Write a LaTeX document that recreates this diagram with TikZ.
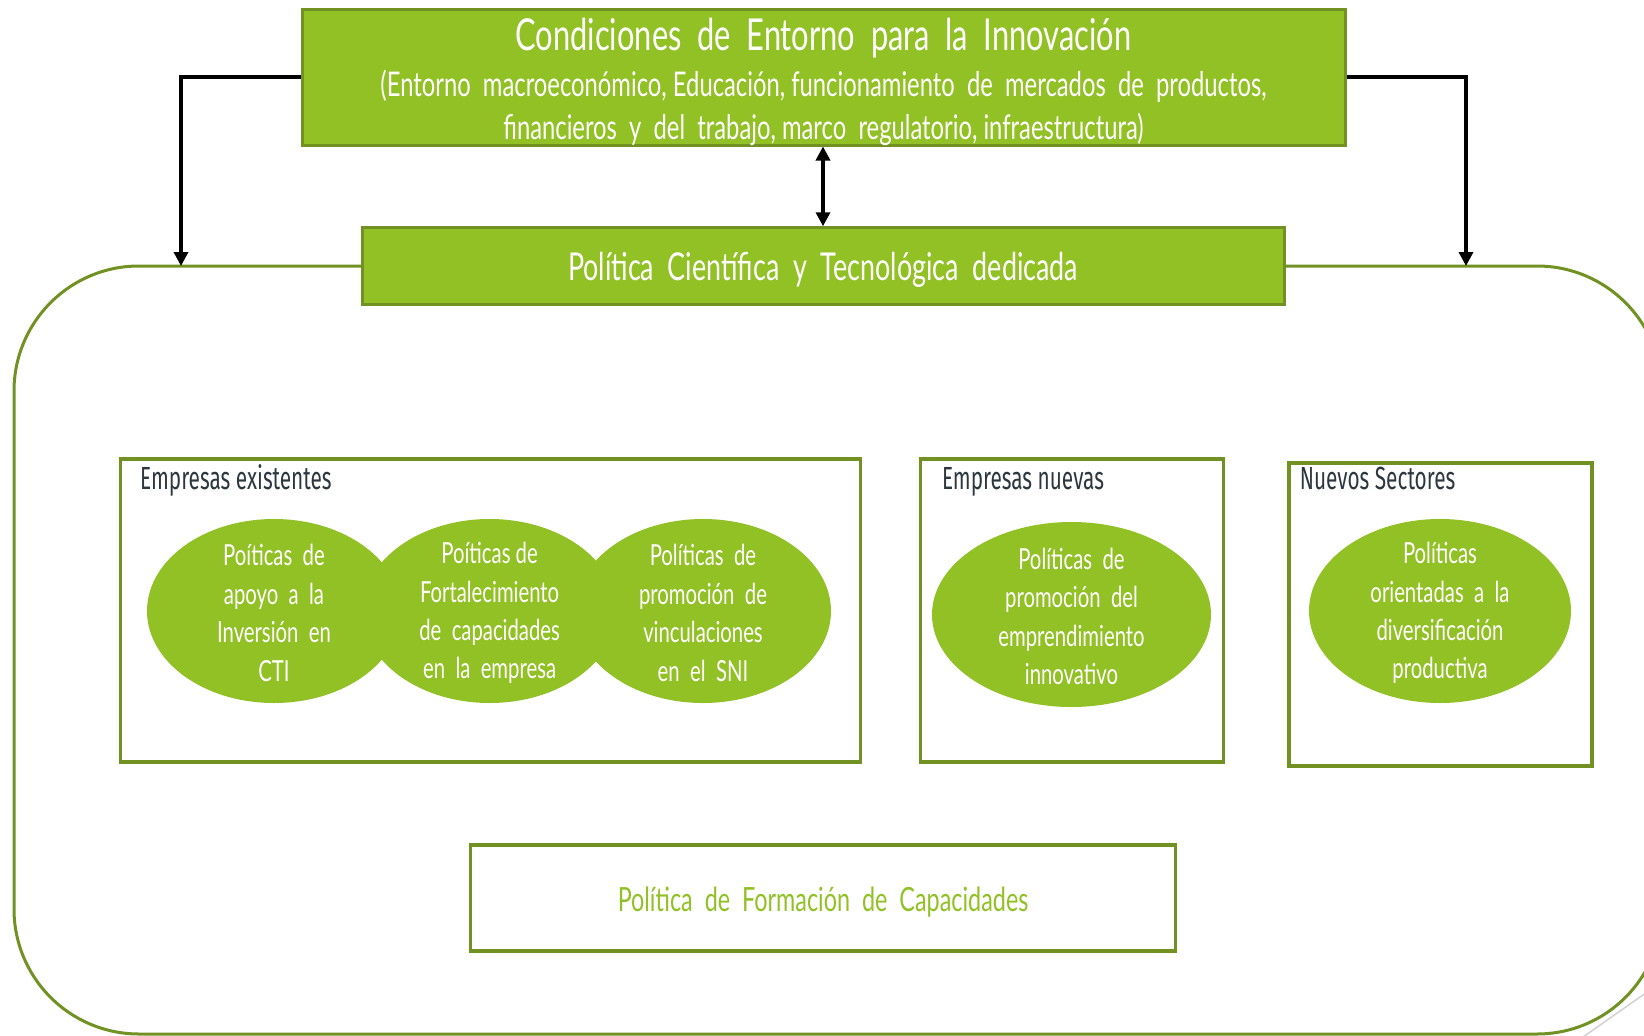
\documentclass[tikz,border=0pt]{standalone}
\usepackage{fontspec}
\setmainfont[FakeStretch=0.7]{Lato}
\newfontfamily\lblfont[FakeStretch=0.65]{Fira Sans}
\usetikzlibrary{shapes.geometric,arrows.meta}
\definecolor{gfill}{RGB}{146,193,38}
\definecolor{gline}{RGB}{113,146,35}
\definecolor{lblc}{RGB}{45,55,62}
\begin{document}
\begin{tikzpicture}[x=1pt,y=-1pt,
  greenbox/.style={draw=gline,fill=gfill,line width=3pt,inner sep=0pt},
  ibox/.style={draw=gline,fill=white,line width=3.2pt,inner sep=0pt},
  ell/.style={ellipse,fill=gfill,inner sep=0pt},
  etext/.style={inner sep=0pt,text=white,align=center,
     font=\fontsize{29}{38.4}\selectfont},
  lbltext/.style={anchor=base west,inner sep=0pt,text=lblc,font=\lblfont\fontsize{32}{36}\selectfont},
  wtext/.style={anchor=base,inner sep=0pt,text=white},
  arr/.style={black,line width=3.4pt,-{Triangle[width=14pt,length=14pt]}},
  darr/.style={black,line width=3.4pt,{Triangle[width=14pt,length=14pt]}-{Triangle[width=14pt,length=14pt]}}]
\useasboundingbox (0,0) rectangle (1644,1036);
\clip (0,0) rectangle (1644,1036);
\fill[white] (0,0) rectangle (1644,1036);
% outer frame
\node[draw=gline,line width=3pt,rounded corners=125pt,minimum width=1648pt,minimum height=768pt,inner sep=0pt] (frame) at (838,650) {};
\draw[gray!35,line width=1.5pt] (1583,1037) -- (1650,990);
% top box
\node[greenbox,minimum width=1043pt,minimum height=136pt] (env) at (823.5,77) {};
\node[wtext,font=\fontsize{44}{50}\selectfont] (t1) at (823.5,50) {Condiciones\ \ de\ \ Entorno\ \ para\ \ la\ \ Innovación};
\node[wtext,font=\fontsize{34}{40}\selectfont] (t2) at (823.5,96) {(Entorno\ \ macroeconómico,\ Educación,\ funcionamiento\ \ de\ \ mercados\ \ de\ \ productos,};
\node[wtext,font=\fontsize{34}{40}\selectfont] (t3) at (823.5,139) {financieros\ \ y\ \ del\ \ trabajo,\ marco\ \ regulatorio,\ infraestructura)};
% second box
\node[greenbox,minimum width=922pt,minimum height=76.5pt] (pol) at (823,266) {};
\node[wtext,font=\fontsize{38.4}{44}\selectfont] (pt) at (823,280) {Política\ \ Científica\ \ y\ \ Tecnológica\ \ dedicada};
% connectors
\coordinate (lt) at (181,266);
\coordinate (rt) at (1466,266);
\draw[arr] (env.west) -| (lt);
\draw[arr] (env.east) -| (rt);
\draw[darr] (env.south -| 823,0) -- (pol.north -| 823,0);
% inner boxes
\node[ibox,minimum width=740pt,minimum height=303pt] (ex) at (490.7,610.5) {};
\node[ibox,minimum width=303pt,minimum height=303pt] (nu) at (1072.1,610.5) {};
\node[ibox,minimum width=303pt,minimum height=303pt] (ns) at (1440.5,614.5) {};
\node[lbltext] (l1) at (140,489) {Empresas existentes};
\node[lbltext] (l2) at (941.8,489) {Empresas nuevas};
\node[lbltext] (l3) at (1299.6,489) {Nuevos Sectores};
% ellipses
\node[ell,minimum width=254pt,minimum height=184pt] (e1) at (274,611) {};
\node[ell,minimum width=254pt,minimum height=184pt] (e2) at (489.6,611) {};
\node[ell,minimum width=256pt,minimum height=184pt] (e3) at (703,611) {};
\node[ell,minimum width=279pt,minimum height=185pt] (e4) at (1071.5,614.5) {};
\node[ell,minimum width=262pt,minimum height=184pt] (e5) at (1440,611) {};
\node[etext] (x1) at ([yshift=-2pt]e1) {Poíticas\ \ de\\apoyo\ \ a\ \ la\\Inversión\ \ en\\CTI};
\node[etext] (x2) at ([yshift=-2pt]e2) {Poíticas de\\Fortalecimiento\\de\ \ capacidades\\en\ \ la\ \ empresa};
\node[etext] (x3) at ([yshift=-2pt]e3) {Políticas\ \ de\\promoción\ \ de\\vinculaciones\\en\ \ el\ \ SNI};
\node[etext] (x4) at ([yshift=-2pt]e4) {Políticas\ \ de\\promoción\ \ del\\emprendimiento\\innovativo};
\node[etext] (x5) at ([yshift=-2pt]e5) {Políticas\\orientadas\ \ a\ \ la\\diversificación\\productiva};
% bottom box
\node[ibox,minimum width=704.6pt,minimum height=106pt] (fc) at (823.1,898) {};
\node[inner sep=0pt,text=gfill,font=\fontsize{33.4}{40}\selectfont] (fct) at ([yshift=-4pt]fc) {Política\ \ de\ \ Formación\ \ de\ \ Capacidades};
\end{tikzpicture}
\end{document}
